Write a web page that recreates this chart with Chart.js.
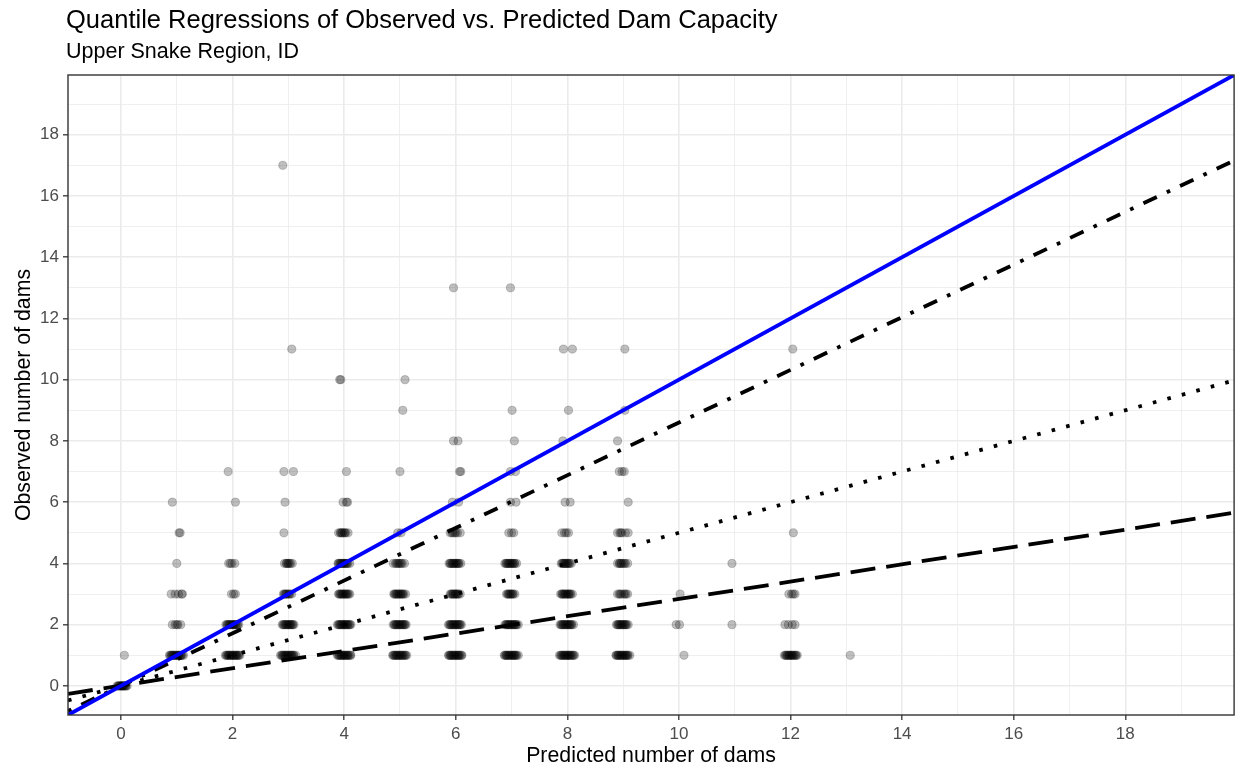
<!DOCTYPE html>
<html>
<head>
<meta charset="utf-8">
<script src="https://cdn.jsdelivr.net/npm/chart.js@4"></script>
<style>
  body { margin: 0; background: #ffffff; }
  #wrap { width: 1239px; height: 769px; }
</style>
</head>
<body>
<div id="wrap"><canvas id="damChart" width="1239" height="769"></canvas></div>
<script>
// observed dam counts and the (jittered) predicted counts of the reaches at each level
const observedLevels = [0, 1, 2, 3, 4, 5, 6, 7, 8, 9, 10, 11, 13, 17];
const predictedByObserved = [
  [-0.07, -0.05, -0.04, -0.03, -0.01, 0, 0.01, 0.02, 0.03, 0.04, 0.05, 0.07, 0.08, 0.09, 0.11],
  [0.06,
   0.87, 0.88, 0.9, 0.91, 0.92, 0.94, 0.95, 0.96, 0.98, 0.99, 1, 1.02, 1.03, 1.04, 1.06, 1.07, 1.08, 1.1, 1.12,
   1.87, 1.89, 1.9, 1.92, 1.93, 1.94, 1.96, 1.97, 1.99, 2, 2.01, 2.03, 2.04, 2.06, 2.07, 2.08, 2.1, 2.11, 2.13,
   2.86, 2.88, 2.89, 2.91, 2.92, 2.94, 2.95, 2.96, 2.98, 2.99, 3, 3.02, 3.03, 3.05, 3.06, 3.07, 3.09, 3.1, 3.13,
   3.88, 3.89, 3.91, 3.92, 3.94, 3.95, 3.96, 3.98, 3.99, 4, 4.02, 4.03, 4.05, 4.06, 4.07, 4.09, 4.11, 4.12,
   4.87, 4.88, 4.9, 4.91, 4.93, 4.94, 4.95, 4.97, 4.98, 5, 5.01, 5.02, 5.04, 5.05, 5.07, 5.09, 5.1, 5.12,
   5.87, 5.88, 5.9, 5.91, 5.92, 5.94, 5.95, 5.97, 5.98, 5.99, 6.01, 6.02, 6.04, 6.05, 6.06, 6.08, 6.1, 6.11,
   6.87, 6.88, 6.9, 6.91, 6.92, 6.94, 6.95, 6.97, 6.98, 7, 7.01, 7.02, 7.04, 7.05, 7.06, 7.08, 7.09, 7.12,
   7.86, 7.88, 7.89, 7.91, 7.92, 7.94, 7.95, 7.96, 7.98, 7.99, 8.01, 8.02, 8.03, 8.05, 8.06, 8.08, 8.1, 8.11, 8.13,
   8.87, 8.88, 8.9, 8.91, 8.92, 8.94, 8.95, 8.97, 8.98, 8.99, 9.01, 9.02, 9.04, 9.05, 9.06, 9.08, 9.09, 9.12,
   10.09,
   11.89, 11.91, 11.92, 11.94, 11.95, 11.97, 11.98, 12, 12.01, 12.02, 12.04, 12.05, 12.07, 12.09, 12.1, 12.12,
   13.07],
  [0.92, 0.97, 1.0, 1.02, 1.07,
   1.88, 1.9, 1.91, 1.93, 1.94, 1.96, 1.97, 1.99, 2, 2.02, 2.03, 2.05, 2.06, 2.08, 2.09, 2.11,
   2.89, 2.91, 2.92, 2.94, 2.95, 2.97, 2.98, 3, 3.01, 3.02, 3.04, 3.05, 3.07, 3.08, 3.1,
   3.88, 3.9, 3.91, 3.93, 3.94, 3.96, 3.97, 3.99, 4, 4.01, 4.03, 4.04, 4.06, 4.07, 4.09, 4.1, 4.12,
   4.88, 4.9, 4.91, 4.93, 4.94, 4.96, 4.97, 4.99, 5, 5.02, 5.03, 5.05, 5.06, 5.08, 5.09, 5.11,
   5.87, 5.89, 5.9, 5.92, 5.93, 5.95, 5.96, 5.98, 5.99, 6.01, 6.02, 6.04, 6.05, 6.07, 6.08, 6.1,
   6.88, 6.9, 6.91, 6.93, 6.94, 6.96, 6.97, 6.99, 7, 7.02, 7.03, 7.05, 7.06, 7.08, 7.09, 7.12,
   7.87, 7.89, 7.9, 7.92, 7.93, 7.95, 7.96, 7.98, 7.99, 8.01, 8.02, 8.04, 8.05, 8.07, 8.08, 8.11,
   8.88, 8.9, 8.91, 8.93, 8.94, 8.96, 8.97, 8.99, 9, 9.02, 9.03, 9.05, 9.06, 9.09,
   9.95, 10.01,
   10.95,
   11.9, 11.96, 12.03, 12.08],
  [0.9, 0.97, 1.03, 1.09, 1.1,
   1.98, 2.02, 2.05,
   2.91, 2.93, 2.94, 2.96, 2.97, 3, 3.01, 3.03, 3.06,
   3.9, 3.91, 3.93, 3.94, 3.96, 3.97, 3.99, 4, 4.02, 4.03, 4.05, 4.06, 4.08, 4.1,
   4.89, 4.9, 4.92, 4.93, 4.95, 4.96, 4.98, 4.99, 5.01, 5.02, 5.04, 5.05, 5.07, 5.1,
   5.9, 5.92, 5.93, 5.95, 5.96, 5.98, 5.99, 6.01, 6.02, 6.04, 6.05, 6.08,
   6.91, 6.93, 6.94, 6.96, 6.97, 6.99, 7, 7.02, 7.03, 7.06,
   7.88, 7.9, 7.91, 7.93, 7.94, 7.96, 7.97, 7.99, 8, 8.02, 8.03, 8.05, 8.06, 8.09,
   8.9, 8.93, 8.95, 8.97, 9.01, 9.03, 9.05, 9.08,
   10.02,
   11.97, 12.02, 12.05, 12.08],
  [1.0,
   1.93, 1.96, 1.99, 2.04,
   2.93, 2.96, 2.97, 2.99, 3, 3.02, 3.04, 3.07,
   3.89, 3.9, 3.92, 3.93, 3.95, 3.96, 3.98, 3.99, 4.01, 4.02, 4.04, 4.05, 4.07, 4.1,
   4.88, 4.92, 4.94, 4.96, 4.98, 5, 5.02, 5.04, 5.08,
   5.88, 5.9, 5.91, 5.93, 5.94, 5.96, 5.97, 5.99, 6, 6.02, 6.03, 6.05, 6.06, 6.09,
   6.88, 6.9, 6.91, 6.93, 6.94, 6.96, 6.97, 6.99, 7, 7.02, 7.03, 7.05, 7.06, 7.09,
   7.89, 7.91, 7.92, 7.94, 7.95, 7.97, 7.98, 8, 8.01, 8.03, 8.04, 8.07,
   8.9, 8.93, 8.94, 8.96, 8.97, 9, 9.02, 9.04, 9.08,
   10.95],
  [1.04, 1.06,
   2.92,
   3.9, 3.93, 3.94, 3.96, 3.97, 4, 4.01, 4.03, 4.07,
   4.96, 5.02,
   5.9, 5.93, 5.95, 5.98, 6, 6.03, 6.08,
   6.95, 7, 7.04,
   7.9, 7.95, 7.98, 8.02,
   8.9, 8.94, 8.96, 8.98, 9.04, 9.09,
   12.05],
  [0.92, 2.05, 2.94, 3.98, 4.04, 4.06, 5.94, 6.05, 6.98, 7.08, 7.96, 8.05, 9.09],
  [1.92, 2.92, 3.09, 4.04, 5.0, 6.07, 6.09, 6.98, 7.07, 8.93, 8.98, 9.02],
  [5.96, 6.04, 7.05, 7.92, 8.9],
  [5.05, 7.01, 8.02, 9.03],
  [3.92, 3.94, 5.09],
  [3.06, 7.93, 8.09, 9.03, 12.04],
  [5.96, 6.98],
  [2.9]
];

// fitted lines: y = intercept + slope * x
const lineNames = ['1:1', 'tau = 0.9', 'tau = 0.75', 'tau = 0.5'];
const lineSlopes = [1, 0.86, 0.5, 0.283];
const lineIntercepts = [0, 0, 0, 0.01];
const lineColors = ['#0000ff', '#000000', '#000000', '#000000'];
const lineDashes = [[], [3.7, 11, 14.8, 11], [3.6, 11.4], [25, 11]];

const axisMin = -0.95;
const axisMax = 19.95;

const points = [];
observedLevels.forEach((obs, i) => {
  predictedByObserved[i].forEach(pred => points.push({ x: pred, y: obs }));
});

const lineSets = lineSlopes.map((b, i) => ({
  label: lineNames[i],
  type: 'line',
  data: [axisMin, axisMax].map(x => ({ x: x, y: lineIntercepts[i] + b * x })),
  borderColor: lineColors[i],
  borderWidth: 3.8,
  borderDash: lineDashes[i],
  borderCapStyle: 'butt',
  pointRadius: 0,
  fill: false,
  clip: 0,
  order: i
}));

// titles on the left edge of the panel, and the panel frame on top of the data
const panelDecor = {
  id: 'panelDecor',
  afterDraw(chart) {
    const c = chart.ctx;
    const area = chart.chartArea;
    c.save();
    c.strokeStyle = '#333333';
    c.lineWidth = 1.4;
    c.strokeRect(area.left, area.top, area.right - area.left, area.bottom - area.top);
    c.fillStyle = '#000000';
    c.textAlign = 'left';
    c.textBaseline = 'alphabetic';
    c.font = '25.5px "Liberation Sans", Arial, sans-serif';
    c.fillText('Quantile Regressions of Observed vs. Predicted Dam Capacity', area.left - 2, 28);
    c.font = '21.5px "Liberation Sans", Arial, sans-serif';
    c.fillText('Upper Snake Region, ID', area.left - 2, 58);
    c.restore();
  }
};

const isMajor = v => Math.round(v) % 2 === 0;

const gridOpts = {
  color: '#ebebeb',
  lineWidth: ctx => (ctx.tick && isMajor(ctx.tick.value) ? 1.6 : 0.8),
  tickColor: ctx => (ctx.tick && isMajor(ctx.tick.value) ? '#333333' : 'rgba(0,0,0,0)'),
  tickLength: 5,
  tickWidth: 1.3
};

const tickOpts = {
  stepSize: 1,
  includeBounds: false,
  autoSkip: false,
  maxRotation: 0,
  maxTicksLimit: 100,
  color: '#4d4d4d',
  font: { family: '"Liberation Sans", Arial, sans-serif', size: 17 },
  callback: v => (isMajor(v) ? String(v) : '')
};

new Chart(document.getElementById('damChart'), {
  type: 'scatter',
  data: {
    datasets: lineSets.concat([{
      label: 'reaches',
      data: points,
      backgroundColor: 'rgba(0,0,0,0.25)',
      borderColor: 'rgba(0,0,0,0.25)',
      borderWidth: 0.8,
      pointRadius: 4.1,
      order: 10
    }])
  },
  options: {
    responsive: false,
    animation: false,
    devicePixelRatio: 1,
    layout: { padding: { top: 75, right: 2, left: 0, bottom: 0 } },
    plugins: {
      legend: { display: false },
      tooltip: { enabled: false }
    },
    scales: {
      x: {
        type: 'linear',
        min: axisMin,
        max: axisMax,
        grid: gridOpts,
        border: { display: false },
        ticks: Object.assign({}, tickOpts, { padding: 4 }),
        title: {
          display: true,
          text: 'Predicted number of dams',
          color: '#000000',
          font: { family: '"Liberation Sans", Arial, sans-serif', size: 21.3 },
          padding: { top: 0, bottom: 0 }
        },
        afterFit: s => { s.height = 54; }
      },
      y: {
        type: 'linear',
        min: axisMin,
        max: axisMax,
        grid: gridOpts,
        border: { display: false },
        ticks: Object.assign({}, tickOpts, { padding: 4 }),
        title: {
          display: true,
          text: 'Observed number of dams',
          color: '#000000',
          font: { family: '"Liberation Sans", Arial, sans-serif', size: 21.3 },
          padding: { top: 11, bottom: 0 }
        },
        afterFit: s => { s.width = 68; }
      }
    }
  },
  plugins: [panelDecor]
});
</script>
</body>
</html>
